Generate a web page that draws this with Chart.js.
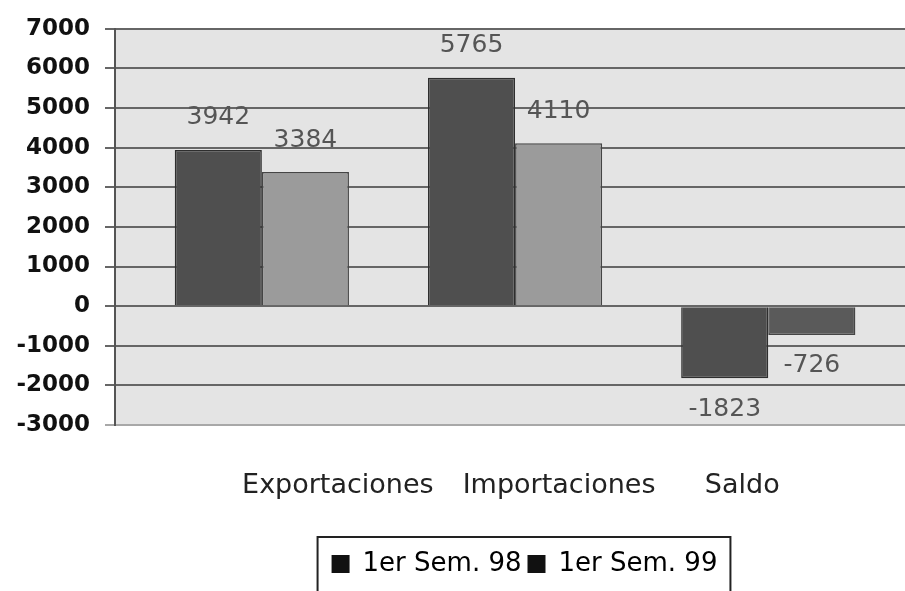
<!DOCTYPE html>
<html>
<head>
<meta charset="utf-8">
<script src="https://cdn.jsdelivr.net/npm/chart.js@4.4.1/dist/chart.umd.min.js"></script>
<style>
  html, body { margin: 0; padding: 0; background: #ffffff; }
  #wrap { width: 905px; height: 591px; position: relative; }
</style>
</head>
<body>
<div id="wrap"><canvas id="chart"></canvas></div>
<script>
// Comercio exterior: primer semestre 1998 vs 1999
const categories = ['Exportaciones', 'Importaciones', 'Saldo'];
const seriesNames = ['1er Sem. 98', '1er Sem. 99'];
const sem98 = [3942, 5765, -1823];
const sem99 = [3384, 4110, -726];
const yTicks = [7000, 6000, 5000, 4000, 3000, 2000, 1000, 0, -1000, -2000, -3000];

const FONT = "'DejaVu Sans', 'Liberation Sans', sans-serif";

// category labels sit a little off their bar groups
const labelShift = [76, 44, -26];

const plotBackground = {
  id: 'plotBackground',
  beforeDraw(chart) {
    const { ctx, chartArea: a } = chart;
    ctx.save();
    ctx.fillStyle = '#e4e4e4';
    ctx.fillRect(a.left, a.top, a.right - a.left, a.bottom - a.top);
    ctx.restore();
  }
};

const valueLabels = {
  id: 'valueLabels',
  afterDatasetsDraw(chart) {
    const { ctx } = chart;
    ctx.save();
    ctx.font = '25px ' + FONT;
    ctx.fillStyle = '#555555';
    ctx.textAlign = 'center';
    ctx.textBaseline = 'middle';
    chart.data.datasets.forEach((ds, di) => {
      const meta = chart.getDatasetMeta(di);
      meta.data.forEach((bar, i) => {
        const v = ds.data[i].y;
        const y = v >= 0 ? bar.y - 32 : bar.y + 31;
        ctx.fillText(String(v), bar.x, y);
      });
    });
    ctx.restore();
  }
};

const categoryLabels = {
  id: 'categoryLabels',
  afterDraw(chart) {
    const { ctx, chartArea: a } = chart;
    const xs = chart.scales.x;
    ctx.save();
    ctx.font = '27px ' + FONT;
    ctx.fillStyle = '#222222';
    ctx.textAlign = 'center';
    ctx.textBaseline = 'alphabetic';
    categories.forEach((c, i) => {
      ctx.fillText(c, xs.getPixelForValue(i) + labelShift[i], a.bottom + 68);
    });
    ctx.restore();
  }
};

const legendFrame = {
  id: 'legendFrame',
  afterLayout(chart) {
    const lg = chart.legend;
    lg.left += 72;
    lg.right += 72;
  },
  afterDraw(chart) {
    const boxes = chart.legend.legendHitBoxes;
    if (!boxes || !boxes.length) return;
    const first = boxes[0], last = boxes[boxes.length - 1];
    const { ctx } = chart;
    ctx.save();
    ctx.strokeStyle = '#222222';
    ctx.lineWidth = 2;
    ctx.strokeRect(first.left - 14, first.top - 14, (last.left + last.width + 13) - (first.left - 14), 80);
    ctx.restore();
  }
};

const darkFill = '#4f4f4f';
const lightFill = ['#9b9b9b', '#9b9b9b', '#5a5a5a'];

new Chart(document.getElementById('chart'), {
  type: 'bar',
  data: {
    datasets: [
      {
        label: seriesNames[0],
        data: sem98.map((v, i) => ({ x: i, y: v })),
        backgroundColor: darkFill,
        borderColor: '#2e2e2e',
        borderWidth: 1.5
      },
      {
        label: seriesNames[1],
        data: sem99.map((v, i) => ({ x: i, y: v })),
        backgroundColor: lightFill,
        borderColor: '#454545',
        borderWidth: 1.5
      }
    ]
  },
  options: {
    responsive: true,
    maintainAspectRatio: false,
    animation: false,
    categoryPercentage: 0.688,
    barPercentage: 1,
    layout: { padding: { top: 26, right: 0, bottom: 4, left: 0 } },
    plugins: {
      tooltip: { enabled: false },
      legend: {
        position: 'bottom',
        labels: {
          boxWidth: 18,
          boxHeight: 18,
          padding: 6,
          color: '#111111',
          font: { family: FONT, size: 26 },
          generateLabels(chart) {
            return chart.data.datasets.map((ds, i) => ({
              text: ds.label,
              fillStyle: '#111111',
              strokeStyle: '#111111',
              lineWidth: 0,
              hidden: false,
              datasetIndex: i
            }));
          }
        }
      }
    },
    scales: {
      x: {
        type: 'linear',
        min: -0.58,
        max: 2.54,
        offset: false,
        afterBuildTicks(s) { s.ticks = categories.map((c, i) => ({ value: i })); },
        grid: { display: false, offset: false },
        border: { display: false },
        ticks: { display: false },
        afterFit(s) { s.height = 120; }
      },
      y: {
        min: -3000,
        max: 7000,
        afterBuildTicks(s) { s.ticks = yTicks.map(v => ({ value: v })); },
        afterFit(s) { s.width = 115; },
        grid: {
          color: ctx => (ctx.tick && ctx.tick.value === -3000 ? '#a8a8a8' : '#666666'),
          lineWidth: 2,
          tickLength: 10
        },
        border: { display: true, color: '#555555', width: 2 },
        ticks: {
          padding: 15,
          color: '#111111',
          font: { family: FONT, size: 23, weight: 'bold' },
          callback: v => String(v)
        }
      }
    }
  },
  plugins: [plotBackground, valueLabels, categoryLabels, legendFrame]
});
</script>
</body>
</html>
